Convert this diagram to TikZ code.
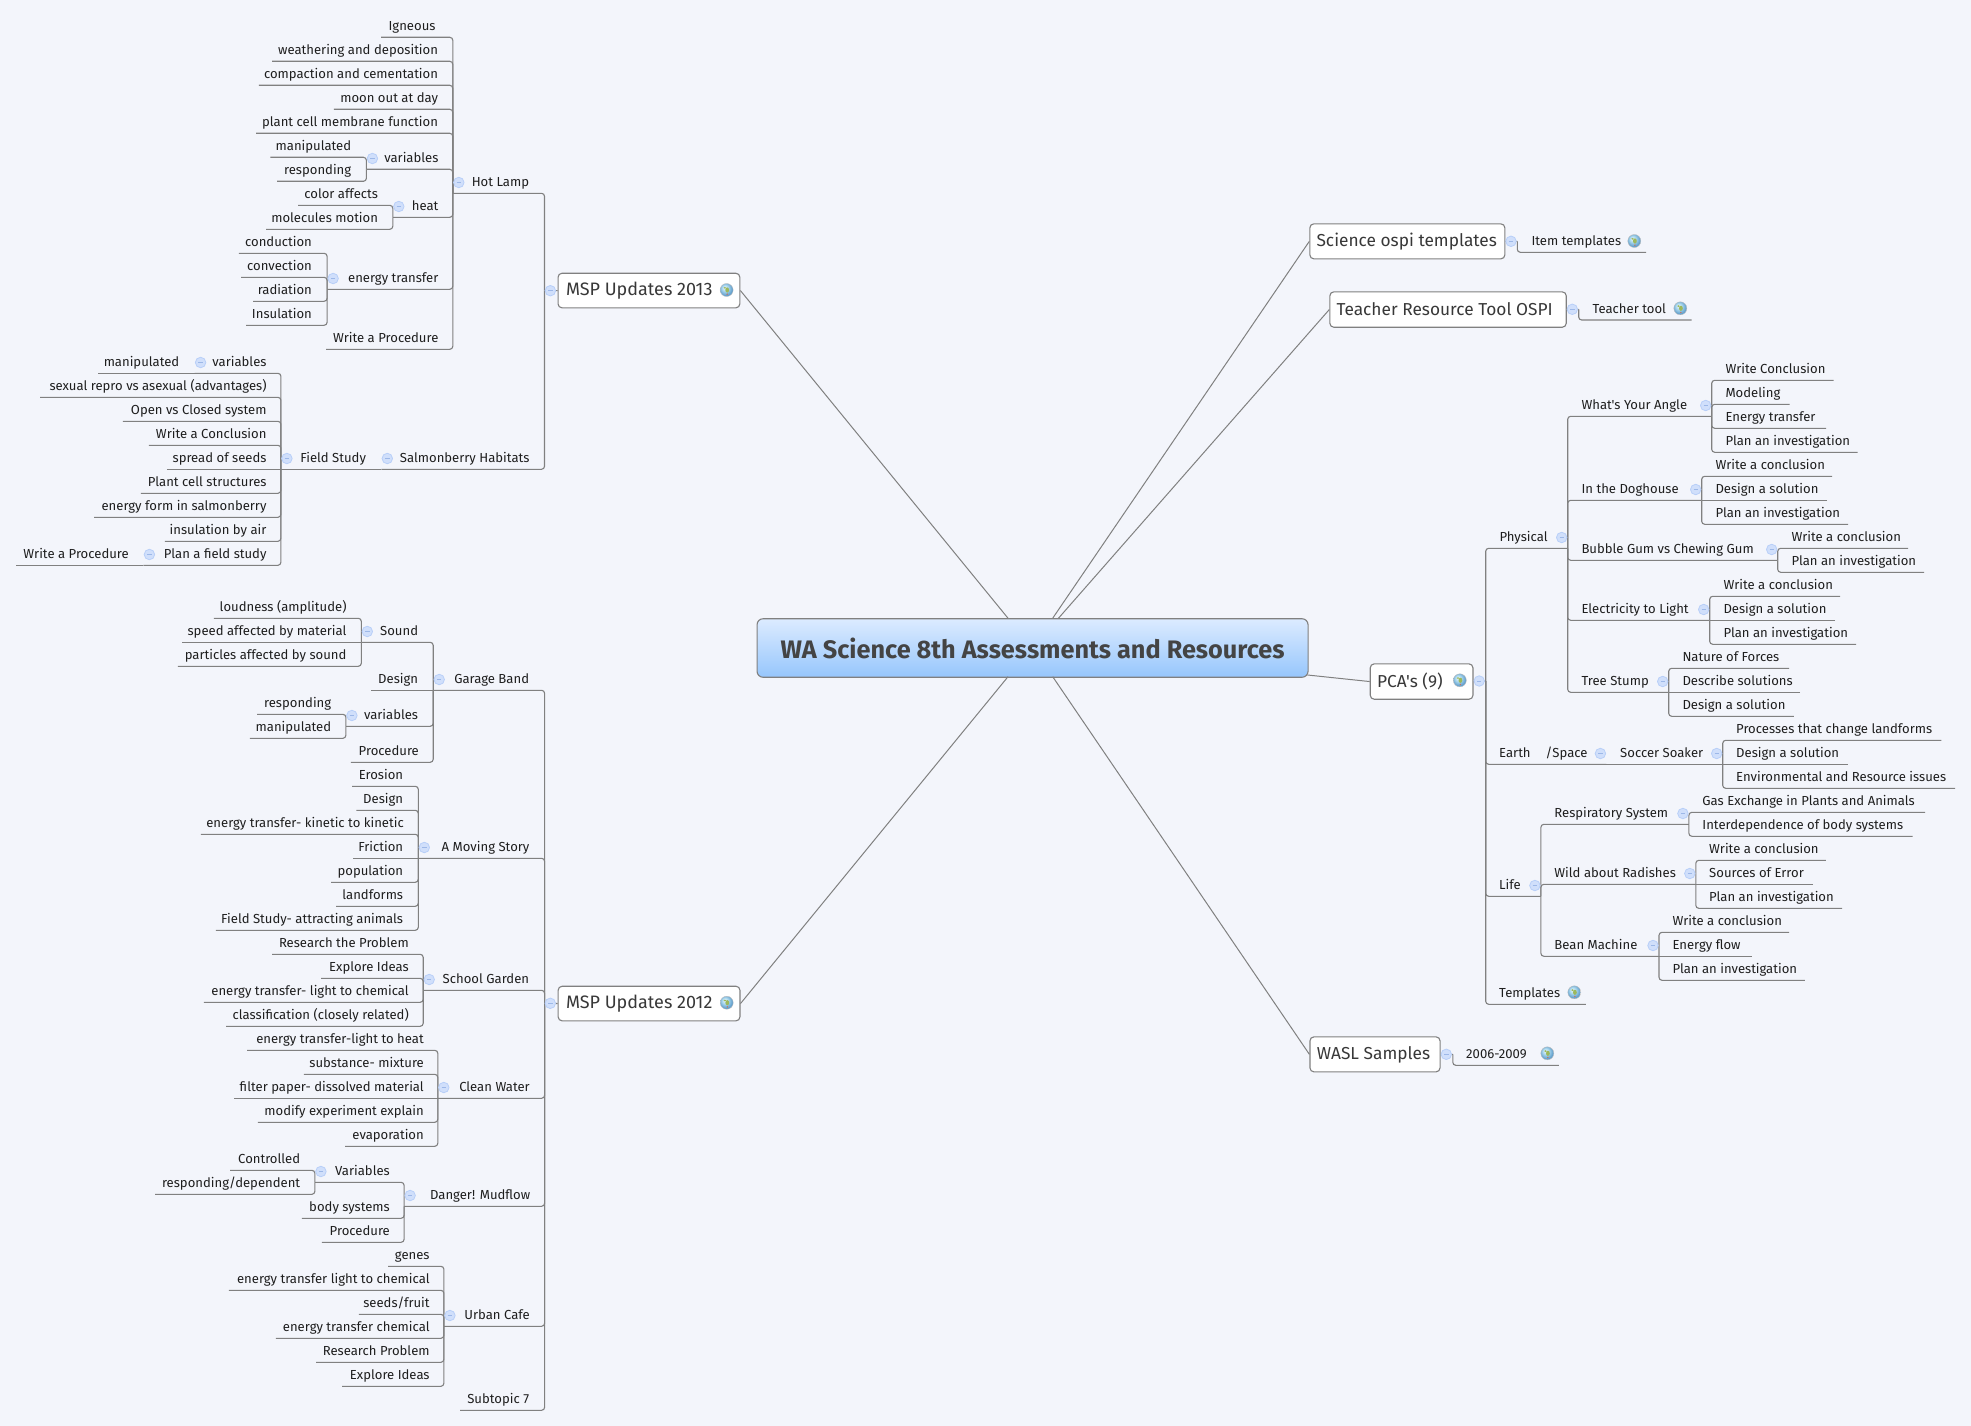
\documentclass[tikz,border=0pt]{standalone}
\usepackage{fontspec}
\setmainfont{Fira Sans}[Ligatures=TeXOff]
\usetikzlibrary{calc}
\definecolor{bgc}{HTML}{F3F5FB}
\definecolor{lnc}{HTML}{808080}
\definecolor{txc}{HTML}{1E1E1E}
\definecolor{mtx}{HTML}{383838}
\definecolor{ctx}{HTML}{444444}
\definecolor{cblue1}{HTML}{DCEBFF}
\definecolor{cblue2}{HTML}{96C6FC}
\definecolor{mkfill}{HTML}{D0DFFB}
\definecolor{mkline}{HTML}{B8CFF8}
\definecolor{mkminus}{HTML}{9DB8E8}
\definecolor{ggreen}{HTML}{9DB85C}
\definecolor{gred}{HTML}{C8705A}
\pgfdeclareradialshading{gshade}{\pgfpoint{-8bp}{10bp}}{rgb(0bp)=(.92,.97,.99); rgb(12bp)=(.66,.84,.93); rgb(32bp)=(.25,.52,.74); rgb(50bp)=(.2,.44,.66)}
\pgfdeclarelayer{mk}
\pgfsetlayers{main,mk}
\tikzset{
  lnk/.style={draw=lnc,line width=1.1pt,rounded corners=3pt},
  clnk/.style={draw=lnc,line width=1pt},
  tnode/.style={inner xsep=5pt,inner ysep=2.8pt,text height=10pt,text depth=3.5pt,text=txc,font=\fontsize{13.1}{15}\selectfont},
  pt/.style={inner sep=0pt,minimum size=0pt,outer sep=0pt},
  mbox/.style={draw=lnc,fill=white,line width=1.1pt,rounded corners=4pt,inner xsep=0pt,inner ysep=0pt,anchor=north west,text=mtx,font=\fontsize{17.3}{20}\selectfont},
  cbox/.style={draw=lnc,line width=1.1pt,rounded corners=6pt,top color=cblue1,bottom color=cblue2,inner sep=0pt,anchor=north west,text=ctx,font=\fontsize{25.3}{28}\selectfont\bfseries},
  mmark/.style={circle,inner sep=0pt,minimum size=10.5pt,fill=mkfill,draw=mkline,line width=.8pt,
    path picture={\draw[mkminus,line width=.8pt] ([xshift=-2.2pt]path picture bounding box.center)--([xshift=2.2pt]path picture bounding box.center);}},
  glb/.style={circle,inner sep=0pt,minimum size=13pt,draw=gray!50,line width=.4pt,shading=gshade,
    path picture={\fill[ggreen] ([xshift=.6pt,yshift=0pt]path picture bounding box.center) ellipse (1.9pt and 2.6pt);
                  \fill[ggreen] ([xshift=-1.8pt,yshift=2.2pt]path picture bounding box.center) ellipse (1.3pt and .9pt);
                  \fill[gred] ([xshift=.6pt,yshift=-4.2pt]path picture bounding box.center) circle (.8pt);}},
}
% left-hand topic: name, parent, text, line left end, text right end, line y
\newcommand{\LNode}[6]{%
  \pgfmathsetmacro\wdA{#5+5-#4}\pgfmathsetmacro\twA{#5-5-#4}%
  \node[tnode,anchor=south east,minimum width=\wdA pt] (#1) at (#5+5,#6) {\hbox to \twA pt{\hss #3}};}
\newcommand{\LN}[6]{\LNode{#1}{#2}{#3}{#4}{#5}{#6}\draw[lnk] (#1.south west) -| (#2.south west);}
\newcommand{\LNS}[6]{\LNode{#1}{#2}{#3}{#4}{#5}{#6}\draw[lnk] (#1.south west) -- (#2.south west);}
% right-hand topic: name, parent, text, text left end, line right end, line y
\newcommand{\RNode}[6]{%
  \pgfmathsetmacro\wdA{#5-#4+5}\pgfmathsetmacro\twA{#5-#4-5}%
  \node[tnode,anchor=south west,minimum width=\wdA pt] (#1) at (#4-5,#6) {\hbox to \twA pt{#3\hss}};}
\newcommand{\RN}[6]{\RNode{#1}{#2}{#3}{#4}{#5}{#6}\draw[lnk] (#1.south east) -| (#2.south east);}
\newcommand{\RNS}[6]{\RNode{#1}{#2}{#3}{#4}{#5}{#6}\draw[lnk] (#1.south east) -- (#2.south east);}
\newcommand{\MkL}[1]{\begin{pgfonlayer}{mk}\node[mmark] (#1m) at ([xshift=6pt,yshift=10.8pt]#1.south west) {};\end{pgfonlayer}}
\newcommand{\MkR}[1]{\begin{pgfonlayer}{mk}\node[mmark] (#1m) at ([xshift=-6pt,yshift=10.8pt]#1.south east) {};\end{pgfonlayer}}
% main box: name, text, x0, y0, x1, y1, text left
\newcommand{\MB}[7]{%
  \pgfmathsetmacro\wdA{#5-#3}\pgfmathsetmacro\htA{#6-#4}%
  \node[mbox,minimum width=\wdA pt,minimum height=\htA pt] (#1) at (#3,#4) {\hbox to \wdA pt{\kern\dimexpr #7pt-#3pt\relax #2\hss}};}
\begin{document}
\begin{tikzpicture}[x=1pt,y=-1pt]
\fill[bgc] (0,0) rectangle (1971,1426);
\useasboundingbox (0,0) rectangle (1971,1426);

% central
\node[cbox,minimum width=551pt,minimum height=58.5pt] (c) at (756.5,618.2) {WA Science 8th Assessments and Resources};
\coordinate (ct1) at (1008,618.2);
\coordinate (ct2) at (1052.7,618.2);
\coordinate (ct3) at (1058.5,618.2);
\coordinate (cb1) at (1008,676.7);
\coordinate (cb2) at (1052.7,676.7);
\coordinate (cr) at (1307.5,675);

% main boxes
\MB{m13}{\fontsize{18}{20}\selectfont MSP Updates 2013}{557.5}{272.7}{739.3}{307.3}{565.5}
\MB{m12}{\fontsize{18}{20}\selectfont MSP Updates 2012}{557.6}{985.7}{739.4}{1020.3}{565.5}
\MB{sci}{Science ospi templates}{1309.3}{223.3}{1504.3}{258.3}{1316}
\MB{tea}{Teacher Resource Tool OSPI}{1329.3}{291.3}{1565.7}{326.7}{1336}
\MB{pca}{PCA's (9)}{1369.7}{663.3}{1472.4}{698.7}{1376.5}
\MB{was}{WASL Samples}{1309.4}{1036.3}{1439.5}{1071.3}{1316.3}
\draw[clnk] (m13.east) -- (ct1);
\draw[clnk] (m12.east) -- (cb1);
\draw[clnk] (sci.west) -- (ct2);
\draw[clnk] (tea.west) -- (ct3);
\draw[clnk] (pca.west) -- (cr);
\draw[clnk] (was.west) -- (cb2);
\node[glb] (g13) at (726.6,290) {};
\node[glb] (g12) at (726.7,1002.7) {};
\node[glb] (gpca) at (1459.8,680.3) {};

% bus points beside the main boxes
\node[pt] (b13) at (544.5,290.7) {};
\node[pt] (b12) at (544.6,1003.3) {};
\node[pt] (bsci) at (1517.3,241.3) {};
\node[pt] (btea) at (1578.7,309.3) {};
\node[pt] (bpca) at (1485.7,681) {};
\node[pt] (bwas) at (1452.8,1054.3) {};
\draw[lnk] (b13) -- (m13.west);
\draw[lnk] (b12) -- (m12.west);
\draw[lnk] (bsci) -- (sci.east);
\draw[lnk] (btea) -- (tea.east);
\draw[lnk] (bpca) -- (pca.east);
\draw[lnk] (bwas) -- (was.east);
\begin{pgfonlayer}{mk}
\node[mmark] (m13m) at (550.4,290.7) {};
\node[mmark] (m12m) at (550.3,1003.3) {};
\node[mmark] (scim) at (1511,241.3) {};
\node[mmark] (team) at (1572.3,309.3) {};
\node[mmark] (pcam) at (1479.2,681) {};
\node[mmark] (wasm) at (1446.3,1054.3) {};
\end{pgfonlayer}

% MSP Updates 2013
\LN{hot}{b13}{Hot Lamp}{453.2}{529.3}{193.3}\MkL{hot}
\LN{ign}{hot}{Igneous}{381.4}{435.7}{37.3}
\LN{wea}{hot}{weathering and deposition}{272.5}{438.2}{61.3}
\LN{com}{hot}{compaction and cementation}{259.3}{438.2}{85.3}
\LN{moo}{hot}{moon out at day}{334.3}{438.2}{109.3}
\LN{pla}{hot}{plant cell membrane function}{256.4}{438.2}{133.3}
\LN{var}{hot}{variables}{366.8}{438.6}{169.3}\MkL{var}
\LN{vma}{var}{manipulated}{270.7}{351.4}{157.3}
\LN{vre}{var}{responding}{277.5}{351.4}{181.3}
\LN{hea}{hot}{heat}{393.2}{438.6}{217.3}\MkL{hea}
\LN{hco}{hea}{color affects}{298.6}{378.2}{205.3}
\LN{hmo}{hea}{molecules motion}{266.4}{378.2}{229.3}
\LN{ene}{hot}{energy transfer}{327.5}{438.6}{289.3}\MkL{ene}
\LN{eco}{ene}{conduction}{239.3}{312.1}{253.3}
\LN{eve}{ene}{convection}{241.4}{312.1}{277.3}
\LN{era}{ene}{radiation}{253.6}{312.1}{301.3}
\LN{ein}{ene}{Insulation}{246.4}{312.1}{325.3}
\LN{wrp}{hot}{Write a Procedure}{326.4}{438.6}{349.3}

\LN{sal}{b13}{Salmonberry Habitats}{381.7}{529.7}{469.3}\MkL{sal}
\LNS{fie}{sal}{Field Study}{281.3}{366.2}{469.3}\MkL{fie}
\LN{fva}{fie}{variables}{195}{266.7}{373.3}\MkL{fva}
\LNS{fma}{fva}{manipulated}{98.7}{179.5}{373.3}
\LN{fse}{fie}{sexual repro vs asexual (advantages)}{40.6}{266.7}{397.3}
\LN{fop}{fie}{Open vs Closed system}{123.2}{266.7}{421.3}
\LN{fwr}{fie}{Write a Conclusion}{149.3}{266.7}{445.3}
\LNS{fsp}{fie}{spread of seeds}{167.2}{266.7}{469.3}
\LN{fpl}{fie}{Plant cell structures}{141.2}{266.7}{493.3}
\LN{fen}{fie}{energy form in salmonberry}{94.5}{266.7}{517.3}
\LN{fin}{fie}{insulation by air}{165.3}{266.7}{541.3}
\LN{fpf}{fie}{Plan a field study}{143.8}{266.7}{565.3}\MkL{fpf}
\LNS{fwp}{fpf}{Write a Procedure}{16.5}{129}{565.3}

% MSP Updates 2012
\LN{gar}{b12}{Garage Band}{433.6}{529.3}{690.3}\MkL{gar}
\LN{sou}{gar}{Sound}{361.7}{418.3}{642.3}\MkL{sou}
\LN{slo}{sou}{loudness (amplitude)}{214.3}{346.7}{618.3}
\LNS{ssp}{sou}{speed affected by material}{182.5}{346.7}{642.3}
\LN{spa}{sou}{particles affected by sound}{178.3}{346.7}{666.3}
\LNS{gde}{gar}{Design}{371.6}{418.3}{690.3}
\LN{gva}{gar}{variables}{346.3}{418.3}{726.3}\MkL{gva}
\LN{gre}{gva}{responding}{257.6}{331.4}{714.3}
\LN{gma}{gva}{manipulated}{250.3}{331.4}{738.3}
\LN{gpr}{gar}{Procedure}{351.3}{419}{762.3}

\LN{mov}{b12}{A Moving Story}{418.7}{529.6}{858.3}\MkL{mov}
\LN{mer}{mov}{Erosion}{352.4}{403.3}{786.3}
\LN{mde}{mov}{Design}{356.7}{403.3}{810.3}
\LN{men}{mov}{energy transfer- kinetic to kinetic}{201.3}{404}{834.3}
\LNS{mfr}{mov}{Friction}{353.6}{403.3}{858.3}
\LN{mpo}{mov}{population}{331.4}{403.3}{882.3}
\LN{mla}{mov}{landforms}{336.4}{403.3}{906.3}
\LN{mfi}{mov}{Field Study- attracting animals}{216.2}{403.3}{930.3}

\LN{sch}{b12}{School Garden}{423.6}{529.3}{990.3}\MkL{sch}
\LN{sre}{sch}{Research the Problem}{272.5}{409}{954.3}
\LN{sex}{sch}{Explore Ideas}{321.4}{409}{978.3}
\LN{sen}{sch}{energy transfer- light to chemical}{204.3}{409}{1002.3}
\LN{scl}{sch}{classification (closely related)}{226.5}{409}{1026.3}

\LN{cle}{b12}{Clean Water}{438.2}{530}{1098.3}\MkL{cle}
\LN{cen}{cle}{energy transfer-light to heat}{247.6}{424}{1050.3}
\LN{csu}{cle}{substance- mixture}{304.2}{424}{1074.3}
\LNS{cfi}{cle}{filter paper- dissolved material}{234.6}{424}{1098.3}
\LN{cmo}{cle}{modify experiment explain}{258.3}{424}{1122.3}
\LN{cev}{cle}{evaporation}{345.6}{424}{1146.3}

\LN{dan}{b12}{Danger! Mudflow}{404.5}{530.4}{1206.3}\MkL{dan}
\LN{dva}{dan}{Variables}{315.3}{390}{1182.3}\MkL{dva}
\LN{dco}{dva}{Controlled}{230.4}{300.4}{1170.3}
\LN{dre}{dva}{responding/dependent}{155.4}{300.4}{1194.3}
\LN{dbo}{dan}{body systems}{302.3}{390}{1218.3}
\LN{dpr}{dan}{Procedure}{322.2}{390}{1242.3}

\LN{urb}{b12}{Urban Cafe}{444.3}{530}{1326.3}\MkL{urb}
\LN{uge}{urb}{genes}{388.4}{429.8}{1266.3}
\LN{uen}{urb}{energy transfer light to chemical}{229.2}{429.8}{1290.3}
\LN{use}{urb}{seeds/fruit}{359.3}{429.8}{1314.3}
\LN{uec}{urb}{energy transfer chemical}{276.3}{429.8}{1338.3}
\LN{ure}{urb}{Research Problem}{316.5}{429.8}{1362.3}
\LN{uex}{urb}{Explore Ideas}{342.5}{429.8}{1386.3}
\LN{sub}{b12}{Subtopic 7}{460.4}{529.3}{1410.3}

% Right side
\RN{ite}{bsci}{Item templates}{1531.3}{1645.7}{252.3}
\RN{tto}{btea}{Teacher tool}{1592.3}{1691.3}{320}
\RN{yrs}{bwas}{2006-2009}{1466}{1558.5}{1065.3}
\node[glb] (gite) at (1634.3,241) {};
\node[glb] (gtto) at (1680.3,308.3) {};
\node[glb] (gyrs) at (1547.3,1053.3) {};

\RN{phy}{bpca}{Physical}{1499.3}{1567.3}{548.3}\MkR{phy}
\RN{wya}{phy}{What's Your Angle}{1581.3}{1711.3}{416.3}\MkR{wya}
\RN{wa1}{wya}{Write Conclusion}{1725.3}{1833.3}{380.3}
\RN{wa2}{wya}{Modeling}{1725.3}{1789.3}{404.3}
\RN{wa3}{wya}{Energy transfer}{1725.3}{1825.7}{428.3}
\RN{wa4}{wya}{Plan an investigation}{1725.3}{1857.3}{452.3}
\RN{dog}{phy}{In the Doghouse}{1581.3}{1701.3}{500.3}\MkR{dog}
\RN{do1}{dog}{Write a conclusion}{1715.3}{1831.7}{476.3}
\RNS{do2}{dog}{Design a solution}{1715.3}{1826.7}{500.3}
\RN{do3}{dog}{Plan an investigation}{1715.3}{1847.7}{524.3}
\RN{bub}{phy}{Bubble Gum vs Chewing Gum}{1581.3}{1777.3}{560.3}\MkR{bub}
\RN{bu1}{bub}{Write a conclusion}{1791.3}{1907.7}{548.3}
\RN{bu2}{bub}{Plan an investigation}{1791.3}{1923.7}{572.3}
\RN{ele}{phy}{Electricity to Light}{1581.3}{1709.3}{620.3}\MkR{ele}
\RN{el1}{ele}{Write a conclusion}{1723.3}{1839.7}{596.3}
\RNS{el2}{ele}{Design a solution}{1723.3}{1834.7}{620.3}
\RN{el3}{ele}{Plan an investigation}{1723.3}{1855.7}{644.3}
\RN{tre}{phy}{Tree Stump}{1581.3}{1668.3}{692.3}\MkR{tre}
\RN{tr1}{tre}{Nature of Forces}{1682.3}{1788.7}{668.3}
\RNS{tr2}{tre}{Describe solutions}{1682.3}{1799.7}{692.3}
\RN{tr3}{tre}{Design a solution}{1682.3}{1793.4}{716.3}

\RN{ear}{bpca}{Earth\hspace{15pt}/Space}{1499}{1606}{764.3}\MkR{ear}
\RNS{soc}{ear}{Soccer Soaker}{1620}{1722.3}{764.3}\MkR{soc}
\RN{so1}{soc}{Processes that change landforms}{1736}{1941}{740.3}
\RNS{so2}{soc}{Design a solution}{1736}{1847.7}{764.3}
\RN{so3}{soc}{Environmental and Resource issues}{1736}{1954.7}{788.3}

\RN{lif}{bpca}{Life}{1499}{1540.5}{896.3}\MkR{lif}
\RN{res}{lif}{Respiratory System}{1554.2}{1688.5}{824.3}\MkR{res}
\RN{re1}{res}{Gas Exchange in Plants and Animals}{1702.2}{1924.7}{812.3}
\RN{re2}{res}{Interdependence of body systems}{1702.2}{1912.3}{836.3}
\RN{wil}{lif}{Wild about Radishes}{1554.2}{1695.4}{884.3}\MkR{wil}
\RN{wi1}{wil}{Write a conclusion}{1709}{1825.5}{860.3}
\RNS{wi2}{wil}{Sources of Error}{1709}{1812.6}{884.3}
\RN{wi3}{wil}{Plan an investigation}{1709}{1841.7}{908.3}
\RN{bea}{lif}{Bean Machine}{1554.2}{1658.6}{956.3}\MkR{bea}
\RN{be1}{bea}{Write a conclusion}{1672.3}{1788.7}{932.3}
\RNS{be2}{bea}{Energy flow}{1672.3}{1751.4}{956.3}
\RN{be3}{bea}{Plan an investigation}{1672.3}{1804.5}{980.3}
\RN{tem}{bpca}{Templates}{1499}{1585.4}{1004.3}
\node[glb] (gtem) at (1574.3,992.3) {};
\end{tikzpicture}
\end{document}
